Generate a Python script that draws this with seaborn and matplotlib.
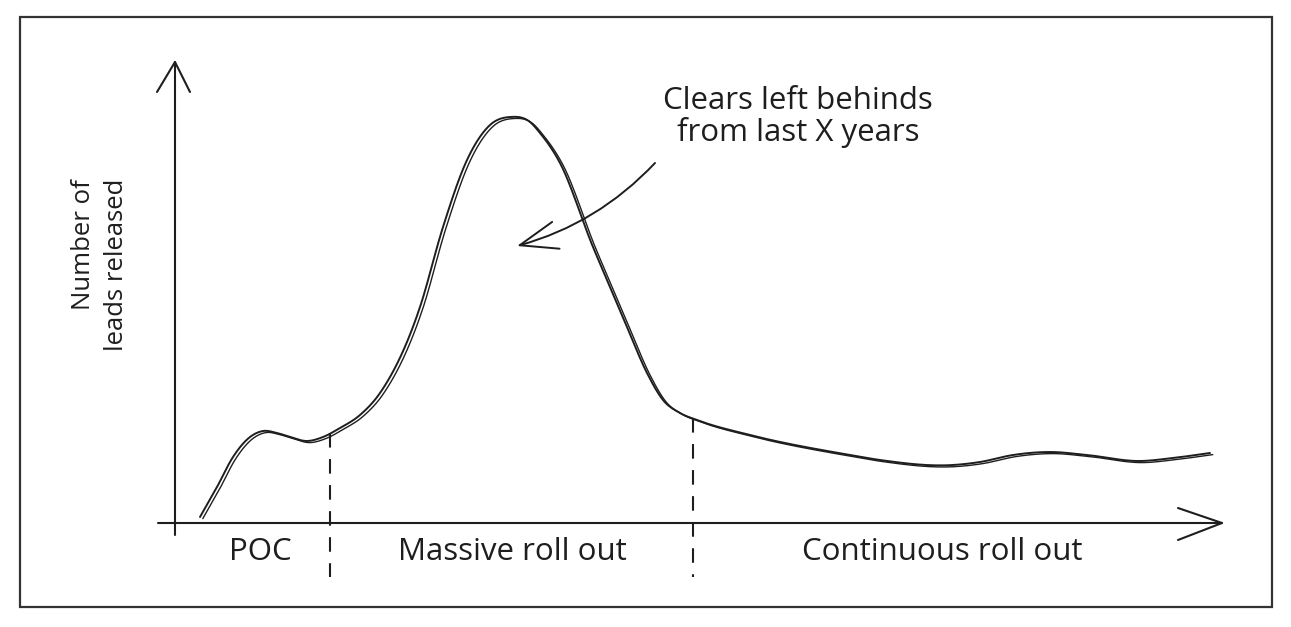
import numpy as np
import matplotlib
matplotlib.use("Agg")
import matplotlib.pyplot as plt
from matplotlib.patches import Rectangle
from matplotlib.transforms import offset_copy
import seaborn as sns

sns.set_theme(style="white")
plt.rcParams['font.family'] = ['Open Sans', 'DejaVu Sans']

ink = "#1e1e1e"

# curve (x = time, y = leads released, arbitrary units)
time = [2.5, 4.2, 5.8, 7.5, 8.8, 10.2, 11.5, 13.2, 14.8, 16.5, 18.5, 20.5,
        24.5, 26.8, 29.2, 31.5, 33.5, 35.5, 36.5, 38.5, 41.8, 43.2, 45.2,
        47.2, 48.8, 50.5, 52.2, 57.5, 67.5, 70.5, 77.8, 80.5, 83.8, 87.5,
        91.2, 96.5, 99.8, 103.5]
leads = [1.5, 9, 16.5, 21.5, 23, 22.5, 21.5, 20.5, 21.5, 23.75, 27, 32.5,
         54, 74, 90.75, 99.5, 101.5, 100.25, 97.5, 90, 69, 60.75, 49, 37.5,
         30.75, 27.5, 25.75, 22, 17, 15.75, 14.5, 15.25, 17, 17.75, 17, 15.5,
         16.25, 17.5]

# phases
phase_names = ["POC", "Massive roll out", "Continuous roll out"]
phase_centers = [8.5, 33.7, 76.7]
phase_bounds = [15.5, 51.8]

note = "Clears left behinds\nfrom last X years"


def smooth(x, y, n=25):
    # cubic hermite through the read points so the line looks hand drawn
    x = np.asarray(x, float)
    y = np.asarray(y, float)
    m = np.gradient(y, x)
    ox, oy = [], []
    t = np.linspace(0, 1, n, endpoint=False)
    for i in range(len(x) - 1):
        h = x[i + 1] - x[i]
        h00 = 2 * t ** 3 - 3 * t ** 2 + 1
        h10 = t ** 3 - 2 * t ** 2 + t
        h01 = -2 * t ** 3 + 3 * t ** 2
        h11 = t ** 3 - t ** 2
        ox.extend(x[i] + t * h)
        oy.extend(h00 * y[i] + h10 * h * m[i] + h01 * y[i + 1] + h11 * h * m[i + 1])
    ox.append(x[-1])
    oy.append(y[-1])
    return np.array(ox), np.array(oy)


fig = plt.figure(figsize=(12.91, 6.27), dpi=100)
ax = fig.add_axes([0, 0, 1, 1])
ax.set_xlim(-17.5, 111.6)
ax.set_ylim(-26, 130.75)
ax.axis("off")

# outer frame
fig.patches.append(Rectangle((20 / 1291, 20 / 627), 1252 / 1291, 590 / 627,
                             transform=fig.transFigure, fill=False,
                             lw=1.6, ec="#333333"))

xs, ys = smooth(time, leads)
sns.lineplot(x=xs, y=ys, ax=ax, color=ink, lw=1.4, sort=False, estimator=None)
# second stroke, slightly shifted, for the sketchy double line
ax.plot(xs, ys, color=ink, lw=1.0,
        transform=offset_copy(ax.transData, fig=fig, x=2.8, y=-1.6, units="dots"))

# axes with hand drawn arrow heads
y_top = 115.25
x_end = 104.7
ax.plot([0, 0], [-3, y_top], color=ink, lw=1.5)
ax.plot([-1.8, 0, 1.5], [y_top - 7.5, y_top, y_top - 7.5], color=ink, lw=1.5)
ax.plot([-1.7, x_end], [0, 0], color=ink, lw=1.5)
ax.plot([x_end - 4.4, x_end, x_end - 4.4], [3.75, 0, -4.25], color=ink, lw=1.5)

# dashed phase dividers
for b in phase_bounds:
    top = np.interp(b, time, leads)
    ax.plot([b, b], [top, -13.5], color=ink, lw=1.5, dashes=(7, 5.5))

for name, cx in zip(phase_names, phase_centers):
    ax.text(cx, -7.25, name, ha="center", va="center", fontsize=22.5, color=ink)

ax.text(-7.5, 64.5, "Number of\nleads released", rotation=90, ha="center",
        va="center", multialignment="right", fontsize=18.5, color=ink,
        linespacing=1.45)

ax.text(62.3, 101.5, note, ha="center", va="center", fontsize=22.5, color=ink,
        linespacing=1.05)
ax.annotate("", xy=(34.2, 69.25), xytext=(48, 90),
            arrowprops=dict(arrowstyle="->,head_length=1.35,head_width=0.5",
                            connectionstyle="arc3,rad=-0.14", lw=1.4,
                            color=ink, shrinkA=0, shrinkB=0, mutation_scale=20))

fig.savefig("out.png", dpi=100, facecolor="white")
